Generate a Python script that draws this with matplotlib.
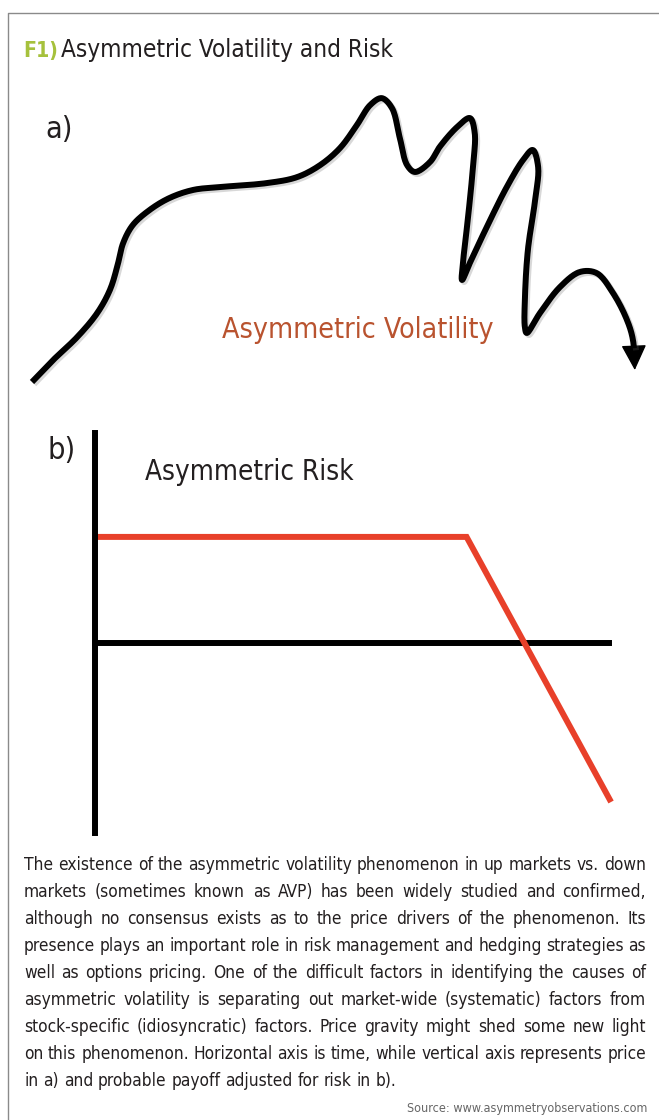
import numpy as np
import matplotlib
matplotlib.use("Agg")
import matplotlib.pyplot as plt
import matplotlib.font_manager as fm
import matplotlib.patheffects as pe
from matplotlib.patches import FancyArrowPatch
from matplotlib.lines import Line2D

# a) price path (time 0-100, price 0-100)
path_time = [0, 3.5, 7.5, 10.8, 12.9, 14.1, 15.1, 16.7, 19.5, 22.8, 26.7, 31.1,
             38.9, 43.9, 47.7, 51.0, 53.8, 56.0, 57.9, 59.6, 60.9, 62.1, 63.4,
             65.9, 67.5, 70.4, 72.5, 73.3, 73.0, 72.2, 71.4, 71.2, 72.5, 75.3,
             78.6, 81.3, 82.9, 83.8, 83.3, 82.1, 81.6, 81.6, 81.9, 84.1, 87.4,
             90.7, 93.5, 96.2, 98.5, 99.5, 99.8]
path_price = [0, 7.7, 15.8, 24.2, 32.3, 40.4, 48.8, 55.1, 60.4, 64.6, 67.4, 68.4,
              69.8, 71.9, 76.1, 82.1, 90.2, 97.2, 99.6, 96.1, 85.6, 76.1, 73.7,
              77.2, 82.5, 89.5, 92.6, 87.4, 75.4, 57.9, 42.8, 35.8, 41.8, 54.4,
              68.4, 77.9, 81.4, 75.4, 63.9, 46.3, 28.8, 19.3, 17.2, 24.2, 33.3,
              38.6, 38.2, 31.2, 21.8, 14.7, 4.2]

# b) risk-adjusted payoff
payoff_time = [0, 7.2, 10]
payoff_value = [2, 2, -3]

title_tag = "F1)"
title_text = "Asymmetric Volatility and Risk"
vol_label = "Asymmetric Volatility"
risk_label = "Asymmetric Risk"
caption_lines = [
    "The existence of the asymmetric volatility phenomenon in up markets vs. down",
    "markets (sometimes known as AVP) has been widely studied and confirmed,",
    "although no consensus exists as to the price drivers of the phenomenon. Its",
    "presence plays an important role in risk management and hedging strategies as",
    "well as options pricing. One of the difficult factors in identifying the causes of",
    "asymmetric volatility is separating out market-wide (systematic) factors from",
    "stock-specific (idiosyncratic) factors. Price gravity might shed some new light",
    "on this phenomenon. Horizontal axis is time, while vertical axis represents price",
    "in a) and probable payoff adjusted for risk in b).",
]
source_text = "Source: www.asymmetryobservations.com"

W, H = 659, 1120
fig = plt.figure(figsize=(W / 100, H / 100), dpi=100)
fig.patch.set_facecolor("white")


def fx(px):
    return px / W


def fy(py):
    return 1 - py / H


# look for a narrow sans, the original is set in a condensed face
def font_path(bold=False):
    want = 700 if bold else 400
    prefs = [("Liberation Sans Narrow", "normal"), ("Roboto Condensed", "normal"),
             ("Open Sans Condensed", "normal"), ("Noto Sans Condensed", "normal"),
             ("DejaVu Sans", "condensed"), ("Noto Sans", "condensed"),
             ("Roboto", "normal")]
    for name, stretch in prefs:
        hits = []
        for f in fm.fontManager.ttflist:
            w = f.weight if isinstance(f.weight, int) else fm.weight_dict.get(f.weight, 400)
            if f.name == name and str(f.stretch) == stretch and f.style == "normal":
                hits.append((abs(w - want), f.fname))
        if hits:
            return sorted(hits)[0][1]
    return None


REG = font_path()
BOLD = font_path(bold=True)


def make_fp(path, size):
    if path:
        return fm.FontProperties(fname=path, size=size)
    return fm.FontProperties(family="DejaVu Sans", size=size)


r = fig.canvas.get_renderer()


def text_width(s, fp):
    t = fig.text(0, 0, s, fontproperties=fp)
    w = t.get_window_extent(r).width
    t.remove()
    return w


def fitted(s, path, size, width, lo=0.8, hi=1.15):
    w = text_width(s, make_fp(path, size))
    k = min(max(width / w, lo), hi)
    return make_fp(path, size * k)


# frame
fig.add_artist(Line2D([fx(7.5), fx(7.5), 1.0], [0, fy(12.5), fy(12.5)],
                      color="#8a8a8a", lw=1.0))

# title
fig.text(fx(23), fy(57), title_tag, fontproperties=fitted(title_tag, BOLD, 19, 31),
         color="#a6c13c", va="baseline")
fig.text(fx(61), fy(57), title_text, fontproperties=fitted(title_text, REG, 19, 332),
         color="#231f20", va="baseline")

######################## a) ########################
ax_a = fig.add_axes([fx(32), fy(382), fx(636) - fx(32), fy(97) - fy(382)])
ax_a.set_xlim(0, 100)
ax_a.set_ylim(0, 100)
ax_a.axis("off")


# centripetal catmull-rom through the read points (done in screen space)
def smooth(P, n=14, alpha=0.5):
    P = np.vstack([2 * P[0] - P[1], P, 2 * P[-1] - P[-2]])
    out = []
    for i in range(len(P) - 3):
        p0, p1, p2, p3 = P[i:i + 4]
        t0 = 0.0
        t1 = t0 + np.linalg.norm(p1 - p0) ** alpha
        t2 = t1 + np.linalg.norm(p2 - p1) ** alpha
        t3 = t2 + np.linalg.norm(p3 - p2) ** alpha
        t = np.linspace(t1, t2, n, endpoint=False)[:, None]
        a1 = (t1 - t) / (t1 - t0) * p0 + (t - t0) / (t1 - t0) * p1
        a2 = (t2 - t) / (t2 - t1) * p1 + (t - t1) / (t2 - t1) * p2
        a3 = (t3 - t) / (t3 - t2) * p2 + (t - t2) / (t3 - t2) * p3
        b1 = (t2 - t) / (t2 - t0) * a1 + (t - t0) / (t2 - t0) * a2
        b2 = (t3 - t) / (t3 - t1) * a2 + (t - t1) / (t3 - t1) * a3
        out.append((t2 - t) / (t2 - t1) * b1 + (t - t1) / (t2 - t1) * b2)
    out.append(P[-2][None])
    return np.vstack(out)


disp = smooth(ax_a.transData.transform(np.column_stack([path_time, path_price])))
curve = ax_a.transData.inverted().transform(disp)
dist = np.hypot(*(disp - disp[-1]).T)
keep = dist > 21
shadow = [pe.SimpleLineShadow(offset=(1.5, -1.5), shadow_color="#666666", alpha=0.25), pe.Normal()]
ax_a.plot(curve[keep, 0], curve[keep, 1], color="black", lw=4.3, clip_on=False,
          solid_capstyle="butt", solid_joinstyle="round", path_effects=shadow)
base = curve[keep][-1]
head = FancyArrowPatch(tuple(base), tuple(curve[-1]), arrowstyle="-|>",
                       mutation_scale=40, lw=1, color="black",
                       shrinkA=0, shrinkB=0, clip_on=False)
ax_a.add_patch(head)

fig.text(fx(45), fy(138), "a)", fontproperties=make_fp(REG, 22), color="#231f20", va="baseline")
fig.text(fx(222), fy(338), vol_label, fontproperties=fitted(vol_label, REG, 22.5, 270),
         color="#b9532f", va="baseline")

######################## b) ########################
ax_b = fig.add_axes([fx(95), fy(833), fx(609) - fx(95), fy(433) - fy(833)])
ax_b.set_xlim(0, 9.96)
ax_b.set_ylim(-3.585, 3.96)
ax_b.set_xticks([])
ax_b.set_yticks([])
ax_b.patch.set_visible(False)
for s in ["top", "right"]:
    ax_b.spines[s].set_visible(False)
ax_b.spines["left"].set_linewidth(4.3)
ax_b.spines["left"].set_zorder(4)
ax_b.spines["bottom"].set_linewidth(4.3)
ax_b.spines["bottom"].set_position(("data", 0))
ax_b.plot(payoff_time, payoff_value, color="#e8402a", lw=4.3, zorder=3,
          clip_on=False, solid_joinstyle="miter", solid_capstyle="butt")

fig.text(fx(47), fy(459), "b)", fontproperties=make_fp(REG, 22), color="#231f20", va="baseline")
fig.text(fx(145), fy(480), risk_label, fontproperties=fitted(risk_label, REG, 24, 209),
         color="#231f20", va="baseline")

######################## caption ########################
left, right = 24, 646
target = right - left
cap_size = 14.8
cap_fp = make_fp(REG, cap_size)
sp = text_width("a a", cap_fp) - text_width("aa", cap_fp)
nat = []
for line in caption_lines[:-1]:
    ws = [text_width(w, cap_fp) for w in line.split()]
    nat.append(sum(ws) + sp * (len(ws) - 1))
k = min(1.0, target / max(nat))
cap_fp = make_fp(REG, cap_size * k)
sp = sp * k

for i, line in enumerate(caption_lines):
    words = line.split()
    ws = [text_width(w, cap_fp) for w in words]
    if i == len(caption_lines) - 1:
        gap = sp
    else:
        gap = (target - sum(ws)) / (len(words) - 1)
    x = left
    for w, wd in zip(words, ws):
        fig.text(fx(x), fy(870 + 27 * i), w, fontproperties=cap_fp,
                 color="#231f20", va="baseline", ha="left")
        x += wd + gap

fig.text(fx(647), fy(1112), source_text, fontproperties=fitted(source_text, REG, 10.5, 242),
         color="#666666", va="baseline", ha="right")

fig.savefig("out.png", dpi=100, facecolor="white")
